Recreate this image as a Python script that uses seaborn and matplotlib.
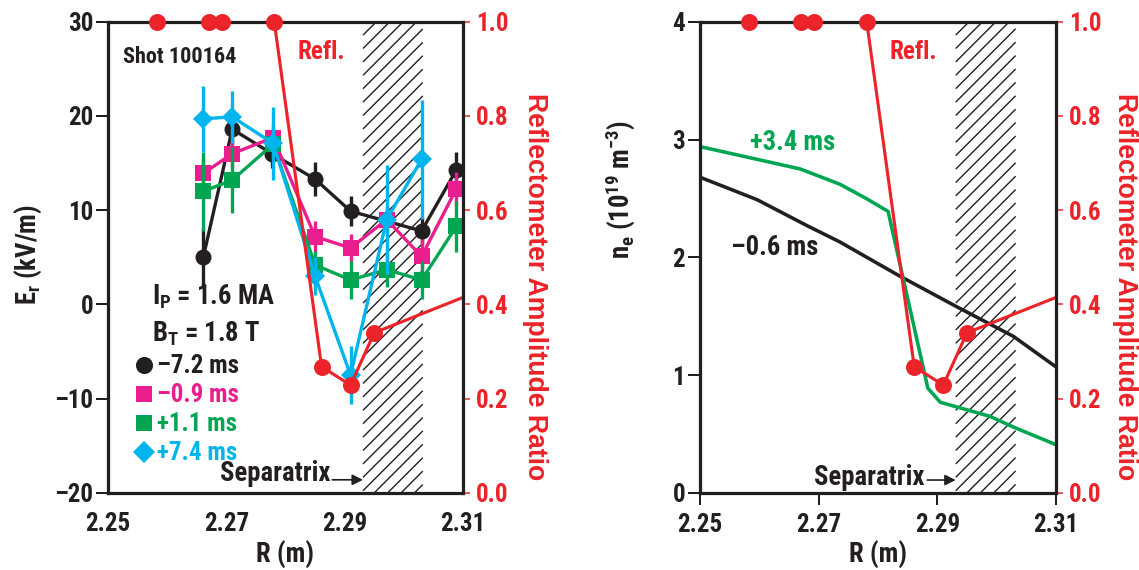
import matplotlib
matplotlib.use("Agg")
import matplotlib.pyplot as plt
from matplotlib.lines import Line2D
from matplotlib.collections import LineCollection
from matplotlib import font_manager as fm
import numpy as np
import pandas as pd
import seaborn as sns

# ---------------- data ----------------
x_ticks = [2.25, 2.27, 2.29, 2.31]
x_tick_labels = ["2.25", "2.27", "2.29", "2.31"]
er_ticks = [-20, -10, 0, 10, 20, 30]
er_tick_labels = ["\u201320", "\u201310", "0", "10", "20", "30"]
ne_ticks = [0, 1, 2, 3, 4]
ne_tick_labels = ["0", "1", "2", "3", "4"]
ratio_ticks = [0.0, 0.2, 0.4, 0.6, 0.8, 1.0]
ratio_tick_labels = ["0.0", "0.2", "0.4", "0.6", "0.8", "1.0"]

R_black = [2.2661, 2.2710, 2.2777, 2.2850, 2.2910, 2.3030, 2.3089]
Er_black = [5.0, 18.6, 16.0, 13.3, 9.9, 7.8, 14.3]
err_black = [3.1, 1.5, 1.5, 1.8, 1.6, 1.5, 1.9]

R_magenta = [2.2661, 2.2710, 2.2779, 2.2850, 2.2910, 2.2971, 2.3030, 2.3089]
Er_magenta = [13.9, 16.0, 17.7, 7.2, 6.0, 9.0, 5.1, 12.3]
err_magenta = [1.5, 1.5, 1.3, 1.7, 1.5, 1.5, 1.8, 1.8]

R_green = [2.2661, 2.2710, 2.2779, 2.2850, 2.2910, 2.2971, 2.3030, 2.3089]
Er_green = [12.0, 13.2, 17.0, 4.2, 2.6, 3.7, 2.6, 8.3]
err_green = [4.2, 3.5, 1.5, 1.5, 2.0, 1.8, 2.0, 2.7]

R_blue = [2.2661, 2.2710, 2.2779, 2.2850, 2.2910, 2.2971, 2.3030]
Er_blue = [19.7, 19.9, 17.1, 3.0, -7.5, 9.0, 15.4]
err_blue = [3.5, 2.8, 3.85, 2.0, 3.1, 5.8, 6.3]

series_labels = ["\u20137.2 ms", "\u20130.9 ms", "+1.1 ms", "+7.4 ms"]

R_refl = [2.2582, 2.2670, 2.2692, 2.2781, 2.2861, 2.2910, 2.2950, 2.3100]
ratio_refl = [1.0, 1.0, 1.0, 1.0, 0.268, 0.229, 0.340, 0.415]
n_refl_markers = 7

R_ne_m06 = [2.2500, 2.2596, 2.2680, 2.2736, 2.2837, 2.2933, 2.3028, 2.3100]
ne_m06 = [2.68, 2.49, 2.27, 2.13, 1.84, 1.58, 1.33, 1.07]
R_ne_p34 = [2.2500, 2.2669, 2.2736, 2.2780, 2.2817, 2.2884, 2.2905, 2.2933,
            2.2989, 2.3028, 2.3100]
ne_p34 = [2.94, 2.75, 2.62, 2.50, 2.39, 0.89, 0.77, 0.73, 0.65, 0.56, 0.41]

separatrix_band = [2.2931, 2.3032]

# ---------------- style ----------------
BLACK = "#231F20"
RED = "#EC2329"
MAGENTA = "#EA1E8E"
GREEN = "#00A651"
BLUE = "#00B4EE"

sns.set_style("white")
names = {f.name for f in fm.fontManager.ttflist}
NARROW = None
for cand in ["Liberation Sans Narrow", "Arial Narrow", "Roboto Condensed",
             "Open Sans Condensed"]:
    if cand in names:
        NARROW = cand
        break
WIDE = "Liberation Sans" if "Liberation Sans" in names else "DejaVu Sans"
if NARROW is not None:
    MAIN = NARROW
    FS = dict(tick=22.5, label=24, legend=22.5, shot=20, refl=22.5, note=24,
              sep=24, ms=24)
else:
    MAIN = WIDE
    FS = dict(tick=20, label=20.5, legend=20, shot=16.5, refl=19.5, note=20,
              sep=20, ms=20)

plt.rcParams.update({
    "font.family": [MAIN, "DejaVu Sans"],
    "font.weight": "bold",
    "mathtext.fontset": "custom",
    "mathtext.rm": f"{MAIN}:bold",
    "mathtext.it": f"{MAIN}:bold",
    "mathtext.bf": f"{MAIN}:bold",
    "mathtext.default": "rm",
    "axes.unicode_minus": True,
})

DPI = 80
W, H = 1139, 570
fig = plt.figure(figsize=(W / DPI, H / DPI), dpi=DPI)
AX_TOP, AX_BOT = 21.7, 493.0


def px_axes(x0, x1):
    return fig.add_axes([x0 / W, (H - AX_BOT) / H, (x1 - x0) / W,
                         (AX_BOT - AX_TOP) / H])


axL = px_axes(108, 463)
axR = px_axes(700, 1056)


def draw_hatch(ax, band, spacing_px=13.4):
    """45-degree hatching of the separatrix band, built in axes-pixel space."""
    fig.canvas.draw()
    bb = ax.get_window_extent()
    wpx, hpx = bb.width, bb.height
    lo, hi = ax.get_xlim()
    px0 = (band[0] - lo) / (hi - lo) * wpx
    px1 = (band[1] - lo) / (hi - lo) * wpx
    segs = []
    for c in np.arange(px0 - hpx, px1, spacing_px):
        xa = max(px0, c)
        xb = min(px1, c + hpx)
        if xb > xa:
            segs.append([(xa / wpx, (xa - c) / hpx), (xb / wpx, (xb - c) / hpx)])
    ax.add_collection(LineCollection(segs, transform=ax.transAxes, colors=BLACK,
                                     linewidths=1.25, zorder=0.5, clip_on=True))


def style_main(ax, ylim, yticks, yticklabels, show_xticks):
    ax.set_xlim(2.25, 2.31)
    ax.set_ylim(*ylim)
    ax.set_yticks(yticks)
    ax.set_yticklabels(yticklabels)
    ax.set_xticks(x_ticks)
    ax.set_xticklabels(x_tick_labels)
    for s in ax.spines.values():
        s.set_visible(True)
        s.set_linewidth(2.8)
        s.set_color(BLACK)
    ax.tick_params(axis="y", which="both", left=True, direction="out", length=10.8,
                   width=1.8, pad=2.7, labelsize=FS["tick"], colors=BLACK)
    ax.tick_params(axis="x", which="both", bottom=True, direction="out",
                   length=10.8 if show_xticks else 0, width=1.8,
                   pad=7.0 if show_xticks else 17.0, labelsize=FS["tick"],
                   colors=BLACK)
    ax.set_xlabel("")
    ax.set_ylabel("")
    ax.text(0.5, (AX_BOT - 555) / (AX_BOT - AX_TOP), "R (m)", transform=ax.transAxes,
            ha="center", va="center", fontsize=FS["label"], color=BLACK)
    draw_hatch(ax, separatrix_band)


def add_ratio(ax, label_x):
    tw = ax.twinx()
    tw.set_xlim(2.25, 2.31)
    tw.set_ylim(0, 1)
    tw.set_yticks(ratio_ticks)
    tw.set_yticklabels(ratio_tick_labels)
    tw.tick_params(axis="y", right=True, direction="out", length=6.3, width=1.35,
                   pad=5.4, labelsize=FS["tick"], colors=RED)
    for s in tw.spines.values():
        s.set_visible(True)
        s.set_linewidth(2.8)
        s.set_color(BLACK)
    sns.lineplot(x=R_refl, y=ratio_refl, color=RED, linewidth=2.8, ax=tw,
                 sort=False, errorbar=None, zorder=2)
    sns.scatterplot(x=R_refl[:n_refl_markers], y=ratio_refl[:n_refl_markers],
                    color=RED, s=234, linewidth=0, zorder=5, clip_on=False,
                    ax=tw, legend=False)
    tw.set_ylabel("")
    tw.text(2.2820, 0.936, "Refl.", color=RED, fontsize=FS["refl"], ha="left",
            va="center")
    tw.text(label_x, 0.437, "Reflectometer Amplitude Ratio", transform=tw.transAxes,
            rotation=270, ha="center", va="center", color=RED, fontsize=24,
            family=WIDE, weight="bold")
    return tw


# ---------------- left panel: E_r ----------------
style_main(axL, (-20, 30), er_ticks, er_tick_labels, show_xticks=False)

series = [
    (R_black, Er_black, err_black, BLACK, "o", 14.4, 2.1),
    (R_magenta, Er_magenta, err_magenta, MAGENTA, "s", 14.0, 2.2),
    (R_green, Er_green, err_green, GREEN, "s", 14.0, 2.3),
    (R_blue, Er_blue, err_blue, BLUE, "D", 12.5, 2.4),
]
for R, E, err, c, m, ms, z in series:
    axL.errorbar(R, E, yerr=err, fmt="none", ecolor=c, elinewidth=3.0,
                 capsize=0, zorder=z - 0.01)
    sns.lineplot(x=R, y=E, color=c, marker=m, markersize=ms, markeredgewidth=0,
                 linewidth=3.0, ax=axL, sort=False, errorbar=None, zorder=z)

axL.text(0.042, 0.925, "Shot 100164", transform=axL.transAxes, fontsize=FS["shot"],
         ha="left", va="center", color=BLACK)
axL.text(2.2574, 0.0, "I$_{\\mathrm{P}}$ = 1.6 MA", fontsize=FS["note"], ha="left",
         va="baseline", color=BLACK)
axL.text(2.2574, -3.95, "B$_{\\mathrm{T}}$ = 1.8 T", fontsize=FS["note"], ha="left",
         va="baseline", color=BLACK)

handles = [Line2D([], [], ls="none", marker=m, color=c, markersize=ms + 1, mew=0)
           for (_, _, _, c, m, ms, _) in series]
axL.legend(handles, series_labels, loc="upper left", bbox_to_anchor=(0.079, 0.294),
           frameon=False, handlelength=0.6, handletextpad=0.24, labelspacing=0.2,
           borderpad=0, borderaxespad=0,
           prop=dict(family=MAIN, weight="bold", size=FS["legend"]),
           labelcolor=[BLACK, MAGENTA, GREEN, BLUE])

axL.text(2.2875, -17.9, "Separatrix", fontsize=FS["sep"], ha="right", va="center",
         color=BLACK)
axL.annotate("", xy=(separatrix_band[0], -18.6), xytext=(2.2879, -18.6),
             arrowprops=dict(arrowstyle="-|>", color=BLACK, lw=1.5,
                             mutation_scale=20, shrinkA=0, shrinkB=0))
axL.text(-0.225, 0.505, "E$_{\\mathrm{r}}$ (kV/m)", transform=axL.transAxes,
         rotation=90, ha="center", va="center", fontsize=FS["label"], color=BLACK)

add_ratio(axL, 1.203)

# ---------------- right panel: n_e ----------------
style_main(axR, (0, 4), ne_ticks, ne_tick_labels, show_xticks=True)
sns.lineplot(x=R_ne_m06, y=ne_m06, color=BLACK, linewidth=3.2, ax=axR,
             sort=False, errorbar=None, zorder=2)
sns.lineplot(x=R_ne_p34, y=ne_p34, color=GREEN, linewidth=3.2, ax=axR,
             sort=False, errorbar=None, zorder=2.1)
axR.text(2.2584, 2.975, "+3.4 ms", color=GREEN, fontsize=FS["ms"], ha="left",
         va="center")
axR.text(2.2553, 2.083, "\u20130.6 ms", color=BLACK, fontsize=FS["ms"], ha="left",
         va="center")
axR.text(2.2879, 0.135, "Separatrix", fontsize=FS["sep"], ha="right", va="center",
         color=BLACK)
axR.annotate("", xy=(separatrix_band[0], 0.11), xytext=(2.2883, 0.11),
             arrowprops=dict(arrowstyle="-|>", color=BLACK, lw=1.5,
                             mutation_scale=20, shrinkA=0, shrinkB=0))
axR.text(-0.225, 0.645,
         "n$_{\\mathrm{e}}$ (10$^{\\mathrm{19}}$ m$^{\\mathrm{-3}}$)",
         transform=axR.transAxes, rotation=90, ha="center", va="center",
         fontsize=FS["label"], color=BLACK)

add_ratio(axR, 1.194)

fig.savefig("out.png", dpi=DPI)
